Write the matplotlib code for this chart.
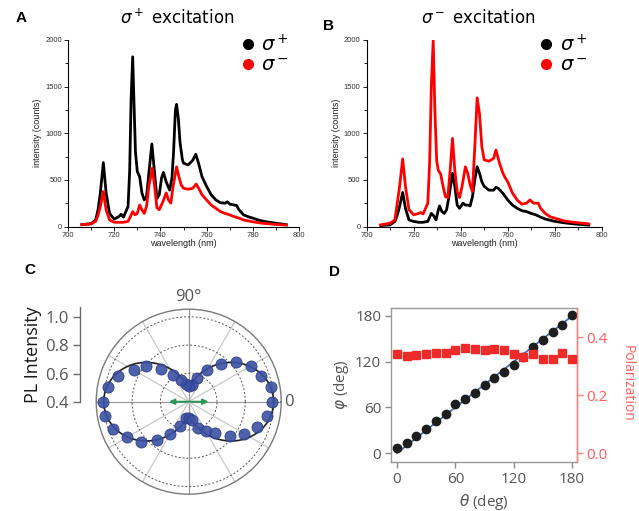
import numpy as np
import matplotlib
matplotlib.use('Agg')
import matplotlib.pyplot as plt
from matplotlib.lines import Line2D

# ---------------- data ----------------
# Panel A (sigma+ excitation)
wlA_plus = [706,710,712,713,714,715.3,716.5,718,720,722,723,724,726,726.7,727.3,728,728.6,729.2,730,731,
            732,733,734,735,736.3,737.5,738.5,739.5,740.5,741.3,742.5,744,745,745.7,746.5,747,747.8,748.5,749.5,750,
            752,754,755.3,756.5,758,760,762,764,766,768,769,770,772,773,774,776,778,780,783,786,790,794.5]
IA_plus = [20,30,70,180,360,685,360,140,80,105,130,100,215,600,1350,1820,1300,800,590,535,
           360,285,320,570,885,570,300,340,520,580,480,390,520,800,1250,1310,1150,900,720,680,
           660,710,775,680,535,430,340,285,255,250,265,240,230,225,180,125,105,90,65,50,35,20]
wlA_minus = [706,710,712,713,714,715.3,716.5,718,720,724,726,727,728,729,730,731,732,733,734,735,
             736.5,737.5,738.5,739.5,741,742.5,743.5,744.5,745.5,747,748,749,750,752,754,755.5,757,758,760,762,
             764,766,768,770,772,774,776,778,780,784,790,794.5]
IA_minus = [20,28,55,120,215,375,180,70,45,45,55,105,160,125,140,230,180,140,215,430,
            625,430,200,180,260,360,285,250,430,640,535,445,410,400,410,455,390,340,285,230,
            195,160,140,125,105,90,70,60,50,35,22,15]

# Panel B (sigma- excitation)
wlB_plus = [706,710,712,713,714,715.3,716.5,718,720,722,724,726,727.5,728.5,729.5,730.5,731,732,733,734,
            735,736.5,737.5,738.5,739.5,741,742,743,744,745,746,747,748,749,750,752,754,755,756,758,
            760,762,764,766,768,770,772,774,776,780,784,788,794.5]
IB_plus = [10,18,55,120,215,365,195,70,55,45,45,55,140,115,70,180,220,160,140,180,
           320,570,430,230,195,250,230,230,220,320,500,640,570,480,430,390,390,420,410,355,
           285,230,195,170,160,140,125,100,80,55,40,28,15]
wlB_minus = [706,710,712,713,714,715.3,716.5,718,720,722,723,724,726,726.8,727.5,728.3,729,729.8,730.5,731.5,
             732.5,733.5,734.5,735.5,736.5,737.5,738.5,739.5,740.5,742,743,744,745,746,747,748,749,750,752,754,
             755,756.5,758,759,760,762,764,766,768,769.5,771,773,774,776,778,780,784,788,792,794.5]
IB_minus = [18,35,70,250,430,725,430,180,125,140,150,135,250,700,1500,2000,1250,700,600,560,
            430,320,310,600,945,600,375,310,420,640,570,445,375,855,1380,1210,855,715,700,730,
            820,680,570,520,480,360,285,240,250,285,250,250,195,140,105,90,60,45,35,28]

# Panel C (polar PL intensity)
theta_C_deg = list(range(0, 360, 10))
r_C = [0.99,0.99,0.94,0.905,0.84,0.75,0.66,0.575,0.52,0.51,0.53,0.56,0.62,0.70,0.79,0.85,0.93,0.98,
       1.005,1.0,0.97,0.90,0.84,0.75,0.66,0.585,0.52,0.515,0.53,0.60,0.64,0.69,0.78,0.85,0.915,0.965]
fit_a, fit_b, fit_p = 0.51, 0.49, 1.6

# Panel D
theta_D = [0,10,20,30,40,50,60,70,80,90,100,110,120,130,140,150,160,170,180]
phi_D = [7,13.5,22.7,32,42,51.5,64,71,79,89,99,106,116,126,139.5,149,158.6,168,181]
pol_D = [0.342,0.334,0.337,0.342,0.345,0.345,0.355,0.362,0.357,0.355,0.357,0.354,0.34,0.33,0.342,
         0.325,0.324,0.346,0.325]
fit_D_x = [0, 180]
fit_D_y = [0, 180]

# ---------------- figure ----------------
W, H = 639, 511
fig = plt.figure(figsize=(W/100, H/100), dpi=100)

def fx(px):
    return px / W

def fy(py):
    return 1 - py / H

SPEC_FONT = 'Liberation Sans'

def spectrum_panel(left, right, wl_p, I_p, wl_m, I_m, title_x, title):
    ax = fig.add_axes([fx(left), fy(226.5), (right-left)/W, (226.5-40)/H])
    ax.plot(wl_p, I_p, color='black', lw=2.0, solid_joinstyle='round')
    ax.plot(wl_m, I_m, color='#ff0000', lw=2.0, solid_joinstyle='round')
    ax.set_xlim(700, 800)
    ax.set_ylim(0, 2000)
    ax.set_xticks(range(700, 801, 20))
    ax.set_xticks(range(710, 800, 20), minor=True)
    ax.set_yticks(range(0, 2001, 500))
    ax.set_yticks(range(250, 2000, 500), minor=True)
    for s in ['top', 'right']:
        ax.spines[s].set_visible(False)
    for s in ['left', 'bottom']:
        ax.spines[s].set_linewidth(0.8)
    ax.tick_params(which='major', direction='out', length=3, width=0.6, labelsize=5.5, pad=1.5)
    ax.tick_params(axis='x', which='major', pad=0.8)
    ax.tick_params(which='minor', direction='out', length=2, width=0.6)
    for lab in ax.get_xticklabels() + ax.get_yticklabels():
        lab.set_fontfamily(SPEC_FONT)
        lab.set_color('#333333')
    ax.set_ylabel('intensity (counts)', fontsize=6.5, family=SPEC_FONT, labelpad=2, color='#222222')
    ax.set_xlabel('wavelength (nm)', fontsize=6.5, family=SPEC_FONT, labelpad=0.5, color='#222222')
    handles = [Line2D([], [], ls='none', marker='o', color='black', ms=7),
               Line2D([], [], ls='none', marker='o', color='#ff0000', ms=7)]
    ax.legend(handles, [r'$\sigma^+$', r'$\sigma^-$'], loc='upper left', frameon=False,
              fontsize=14, handletextpad=0.1, labelspacing=0.05, handlelength=1.2,
              bbox_to_anchor=(fx(left + 168), fy(34)), bbox_transform=fig.transFigure,
              borderaxespad=0, borderpad=0)
    fig.text(fx(title_x), fy(18), title, ha='center', va='center', fontsize=12)
    return ax

axA = spectrum_panel(68, 299, wlA_plus, IA_plus, wlA_minus, IA_minus, 177, r'$\sigma^+$ excitation')
axB = spectrum_panel(366.7, 601.7, wlB_plus, IB_plus, wlB_minus, IB_minus, 478, r'$\sigma^-$ excitation')

# panel letters
for letter, (x, y) in {'A': (21, 18), 'B': (328, 26), 'C': (30, 270), 'D': (334, 272)}.items():
    fig.text(fx(x), fy(y), letter, fontsize=11, fontweight='bold', family=SPEC_FONT,
             ha='center', va='center')

# ---------------- Panel C ----------------
CF = 'Open Sans'
cx, cy, R = 188.7, 401.7, 92.5
rmax = 0.4 + R * 0.2 / 28.3
axC = fig.add_axes([fx(cx - R), fy(cy + R), 2*R/W, 2*R/H], projection='polar')
axC.set_ylim(0.4, rmax)
axC.set_xticks([])
axC.set_yticks([])
axC.grid(False)
axC.spines['polar'].set_color('#7a7a7a')
axC.spines['polar'].set_linewidth(1.0)
for a in range(0, 360, 30):
    col = '#9a9a9a' if a % 90 == 0 else '#c9c9c9'
    axC.plot([np.deg2rad(a)]*2, [0.4, rmax], color=col, lw=0.9, zorder=1)
th = np.linspace(0, 2*np.pi, 721)
for rr in [0.6, 0.8, 1.0]:
    axC.plot(th, np.full_like(th, rr), ls=(0, (2, 2)), color='#555555', lw=0.7, zorder=1)
axC.plot(th, fit_a + fit_b*np.abs(np.cos(th))**fit_p, color='#222222', lw=1.2, zorder=3)
axC.plot(np.deg2rad(theta_C_deg), r_C, 'o', ms=8, color='#3c51a3', mec='#2b3b86', mew=0.6,
         alpha=0.9, zorder=4)
axC.annotate('', xy=(0, 0.56), xytext=(np.pi, 0.56),
             arrowprops=dict(arrowstyle='<|-|>', color='#2a9555', lw=1.4, mutation_scale=8),
             zorder=5)
axC.text(np.pi/2, 0.4 + 105*0.2/28.3, '90°', ha='center', va='center', fontsize=12,
         color='#555555', family=CF)
axC.text(0, 0.4 + 100*0.2/28.3, '0', ha='center', va='center', fontsize=12,
         color='#555555', family=CF)

# PL intensity axis
axP = fig.add_axes([fx(80), fy(402), 1/W, (402-307)/H])
axP.set_ylim(0.4, 0.4 + 95*0.2/28.3)
axP.set_xticks([])
axP.set_yticks([0.4, 0.6, 0.8, 1.0])
axP.set_yticklabels(['0.4', '0.6', '0.8', '1.0'])
for s in ['top', 'right', 'bottom']:
    axP.spines[s].set_visible(False)
axP.spines['left'].set_color('#6a6a6a')
axP.spines['left'].set_linewidth(1.0)
axP.patch.set_visible(False)
axP.tick_params(axis='y', length=5, width=1, color='#6a6a6a', labelcolor='#555555', labelsize=12, pad=3)
for lab in axP.get_yticklabels():
    lab.set_fontfamily(CF)
axP.set_ylabel('PL Intensity', fontsize=13, family=CF, labelpad=2, color='#1a1a1a')

# ---------------- Panel D ----------------
axD = fig.add_axes([fx(391), fy(462), 186/W, 154/H])
axD.plot(fit_D_x, fit_D_y, color='#4a6bb8', lw=1.3, zorder=2)
axD.plot(theta_D, phi_D, 'o', ms=6, color='#1e1e1e', zorder=3)
axD.set_xlim(-6.2, 185.1)
axD.set_ylim(-11.8, 190.5)
axD.set_xticks([0, 60, 120, 180])
axD.set_yticks([0, 60, 120, 180])
for s in axD.spines.values():
    s.set_color('#9a9a9a')
    s.set_linewidth(1.0)
axD.tick_params(direction='out', length=4, width=1, color='#8a8a8a', labelcolor='#555555',
                labelsize=11, pad=3)
for lab in axD.get_xticklabels() + axD.get_yticklabels():
    lab.set_fontfamily(CF)
axD.set_xlabel(r'$\theta$ (deg)', fontsize=11, family=CF, color='#555555', labelpad=4)
axD.set_ylabel(r'$\varphi$ (deg)', fontsize=11, family=CF, color='#555555', labelpad=3)

axD2 = axD.twinx()
axD2.plot(theta_D, pol_D, 's', ms=5.3, color='#ee2b2b', zorder=3)
axD2.set_ylim(-0.031, 0.5)
axD2.set_yticks([0.0, 0.2, 0.4])
axD2.set_yticklabels(['0.0', '0.2', '0.4'])
axD2.spines['right'].set_color('#ff8080')
axD2.spines['right'].set_linewidth(1.0)
for s in ['top', 'left', 'bottom']:
    axD2.spines[s].set_visible(False)
axD2.tick_params(direction='out', length=4, width=1, color='#ff8080', labelcolor='#ff5a5a',
                 labelsize=11, pad=3)
for lab in axD2.get_yticklabels():
    lab.set_fontfamily(CF)
fig.text(fx(627), fy(383), 'Polarization', rotation=270, ha='center', va='center',
         fontsize=10, color='#ff6060', family=CF)

fig.savefig('out.png', dpi=100)
